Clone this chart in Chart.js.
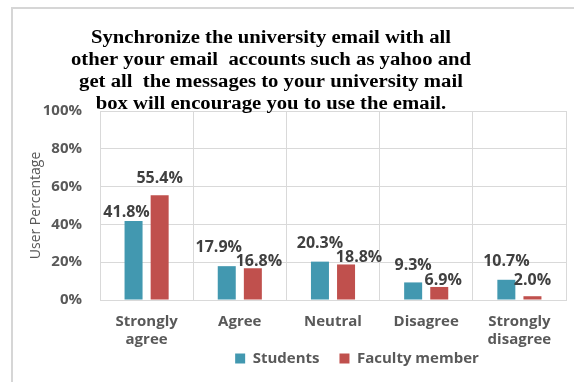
<!DOCTYPE html>
<html>
<head>
<meta charset="utf-8">
<script src="https://cdn.jsdelivr.net/npm/chart.js@4/dist/chart.umd.min.js"></script>
<style>
  html, body { margin: 0; padding: 0; background: #ffffff; overflow: hidden; }
  #frame {
    position: absolute; left: 11px; top: 7px; width: 620px; height: 420px;
    border: 2px solid #d6d6d6; box-sizing: border-box;
  }
  #wrap { position: absolute; left: 0; top: 0; width: 574px; height: 382px; }
</style>
</head>
<body>
<div id="frame"></div>
<div id="wrap"><canvas id="chart" width="574" height="382"></canvas></div>
<script>
// Survey responses, in percent
const categories = [['Strongly', 'agree'], 'Agree', 'Neutral', 'Disagree', ['Strongly', 'disagree']];
const students = [41.8, 17.9, 20.3, 9.3, 10.7];
const faculty = [55.4, 16.8, 18.8, 6.9, 2.0];
const seriesNames = ['Students', 'Faculty member'];
const yTicks = [0, 20, 40, 60, 80, 100];

const titleLines = [
  'Synchronize the university email with all',
  'other your email  accounts such as yahoo and',
  'get all  the messages to your university mail',
  'box will encourage you to use the email.'
];

const TEAL = '#4298b0';
const RED = '#c0504d';
const GRID = '#d9d9d9';
const TICK = '#595959';
const LABEL = '#404040';

// Multi-line heading in a wide bold serif face
const headingPlugin = {
  id: 'heading',
  afterDraw(chart, args, opts) {
    const ctx = chart.ctx;
    ctx.save();
    ctx.font = 'bold 18px "Liberation Serif", serif';
    ctx.fillStyle = '#000000';
    ctx.textAlign = 'center';
    ctx.textBaseline = 'alphabetic';
    const sx = opts.firstLineWidth / ctx.measureText(titleLines[0]).width;
    ctx.translate(opts.cx, 0);
    ctx.scale(sx, 1);
    titleLines.forEach((line, i) => ctx.fillText(line, 0, opts.baseline + i * opts.lineGap));
    ctx.restore();
  }
};

// Value labels above each bar, with small per-label nudges
const valueLabelPlugin = {
  id: 'valueLabels',
  afterDatasetsDraw(chart, args, opts) {
    const ctx = chart.ctx;
    ctx.save();
    ctx.font = 'bold 16px "Open Sans", sans-serif';
    ctx.fillStyle = LABEL;
    ctx.textAlign = 'center';
    ctx.textBaseline = 'middle';
    chart.data.datasets.forEach((ds, di) => {
      const meta = chart.getDatasetMeta(di);
      meta.data.forEach((bar, i) => {
        const n = opts.nudges[di][i];
        ctx.fillText(ds.data[i].toFixed(1) + '%', bar.x + n[0], bar.y + n[1]);
      });
    });
    ctx.restore();
  }
};

// Place the legend row: sideways shift and its own vertical band
const legendPlace = {
  id: 'legendPlace',
  afterLayout(chart, args, opts) {
    const lg = chart.legend;
    if (!lg) return;
    lg.left += opts.dx;
    lg.right += opts.dx;
    lg.top = opts.top;
    lg.bottom = chart.height;
    lg.height = lg.bottom - lg.top;
  }
};

new Chart(document.getElementById('chart'), {
  type: 'bar',
  data: {
    labels: categories,
    datasets: [
      { label: seriesNames[0], data: students, backgroundColor: TEAL },
      { label: seriesNames[1], data: faculty, backgroundColor: RED }
    ]
  },
  options: {
    responsive: false,
    animation: false,
    devicePixelRatio: 1,
    categoryPercentage: 0.56,
    barPercentage: 0.69,
    layout: { padding: { left: 28, right: 8, top: 111, bottom: 0 } },
    scales: {
      x: {
        grid: { color: GRID, lineWidth: 1, drawTicks: false, offset: true },
        border: { color: GRID, width: 1 },
        ticks: {
          color: TICK,
          font: { family: '"Open Sans", sans-serif', size: 15, weight: 'bold', lineHeight: 1.2 },
          padding: 13,
          maxRotation: 0,
          autoSkip: false
        },
        afterFit(scale) { scale.height = 52; }
      },
      y: {
        min: 0,
        max: 100,
        afterBuildTicks(scale) { scale.ticks = yTicks.map(v => ({ value: v })); },
        grid: { color: GRID, lineWidth: 1, drawTicks: false },
        border: { color: GRID, width: 1 },
        ticks: {
          color: TICK,
          font: { family: '"Open Sans", sans-serif', size: 15, weight: 'bold' },
          padding: 18,
          callback: v => v + '%'
        },
        title: {
          display: true,
          text: 'User Percentage',
          color: TICK,
          font: { family: '"Open Sans", sans-serif', size: 14, weight: 'normal' },
          padding: 0
        },
        afterFit(scale) { scale.width = 72; }
      }
    },
    plugins: {
      title: { display: false },
      tooltip: { enabled: false },
      legend: {
        position: 'bottom',
        maxHeight: 30,
        labels: {
          boxWidth: 10,
          boxHeight: 10,
          padding: 20,
          color: TICK,
          font: { family: '"Open Sans", sans-serif', size: 15, weight: 'bold' }
        }
      },
      legendPlace: { dx: 60, top: 331 },
      heading: { cx: 271, baseline: 43, lineGap: 22, firstLineWidth: 360 },
      valueLabels: {
        nudges: [
          [[-7, -9], [-8, -19], [0, -18], [0, -17], [0, -18]],
          [[0, -17], [6, -7], [13, -7], [4, -7], [0, -16]]
        ]
      }
    }
  },
  plugins: [headingPlugin, valueLabelPlugin, legendPlace]
});
</script>
</body>
</html>
